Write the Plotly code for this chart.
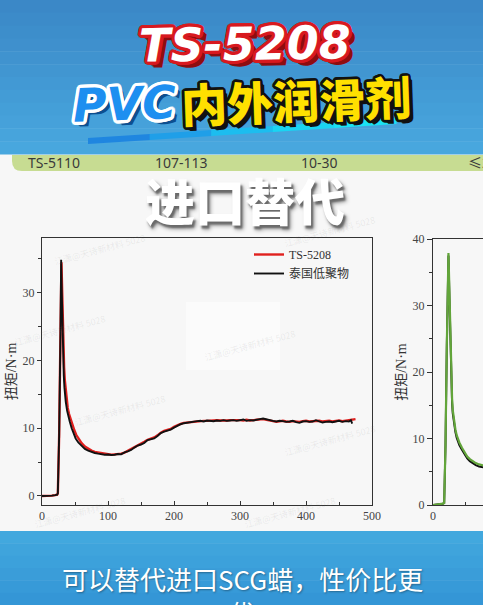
import math
import plotly.graph_objects as go

W, H = 483, 605


def PX(x):
    return x / W


def PY(y):
    return 1 - y / H


# ---------------- data ----------------
x_ticks = [0, 100, 200, 300, 400, 500]
y_ticks_main = [0, 10, 20, 30]
y_ticks_right = [0, 10, 20, 30, 40]

series_names = ["TS-5208", "泰国低聚物"]
y_title = "扭矩/N·m"

header_cells = ["TS-5110", "107-113", "10-30", "≤2"]
title_code = "TS-5208"
title_pvc = "PVC"
title_cn = "内外润滑剂"
headline = "进口替代"
caption_lines = ["可以替代进口SCG蜡，性价比更", "优"]
watermark = "江潇@天诗新材料 5028"

# TS-5208 (red)
ts_x = [0, 5, 10, 15, 20, 23, 24, 26, 28, 29.5,
        30.5, 31.5, 32.5, 33.5, 34.5, 35.5, 37, 39, 41, 43,
        46, 49, 52, 56,
        60, 65, 70, 75, 80, 85, 90, 95, 100, 105,
        110, 115, 120, 125, 130, 135, 140, 145, 150, 155,
        160, 165, 170, 175, 180, 185, 190, 195, 200, 205,
        210, 215, 220, 225, 230, 235, 240, 245, 250, 255,
        260, 265, 270, 275, 280, 285, 290, 295, 300, 305,
        310, 315, 320, 325, 330, 335, 340, 345, 350, 355,
        360, 365, 370, 375, 380, 385, 390, 395, 400, 405,
        410, 415, 420, 425, 430, 435, 440, 445, 450, 455,
        460, 465, 470, 475]
ts_y = [0.0, 0.0, 0.02, 0.05, 0.12, 0.2, 0.4, 9.0, 24.0, 34.5,
        30.5, 25.5, 21.5, 19.0, 17.2, 16.0, 14.3, 13.0, 12.1, 11.4,
        10.5, 9.7, 9.0, 8.3,
        7.8, 7.3, 6.95, 6.7, 6.5, 6.4, 6.3, 6.2, 6.15, 6.1,
        6.15, 6.15, 6.25, 6.4, 6.65, 6.9, 7.2, 7.5, 7.75, 8.0,
        8.3, 8.45, 8.65, 8.95, 9.35, 9.6, 9.7, 9.9, 10.2, 10.45,
        10.65, 10.8, 10.85, 10.95, 11.0, 11.1, 11.05, 11.1, 11.1, 11.15,
        11.1, 11.2, 11.15, 11.1, 11.15, 11.2, 11.15, 11.2, 11.2, 11.15,
        11.25, 11.15, 11.2, 11.25, 11.3, 11.35, 11.25, 11.1, 11.05, 10.95,
        11.05, 11.1, 11.0, 10.95, 11.05, 11.0, 10.95, 11.05, 11.1, 11.0,
        11.05, 11.15, 11.1, 11.0, 11.05, 11.1, 11.0, 11.1, 11.15, 11.05,
        11.1, 11.15, 11.2, 11.35]

# Thai oligomer (black)
th_x = [0, 5, 10, 15, 20, 23, 24, 26, 28, 29,
        30, 31, 32, 33, 34, 35, 36, 38, 40, 42,
        45, 48, 51, 55,
        60, 65, 70, 75, 80, 85, 90, 95, 100, 105,
        110, 115, 120, 125, 130, 135, 140, 145, 150, 155,
        160, 165, 170, 175, 180, 185, 190, 195, 200, 205,
        210, 215, 220, 225, 230, 235, 240, 245, 250, 255,
        260, 265, 270, 275, 280, 285, 290, 295, 300, 305,
        310, 315, 320, 325, 330, 335, 340, 345, 350, 355,
        360, 365, 370, 375, 380, 385, 390, 395, 400, 405,
        410, 415, 420, 425, 430, 435, 440, 445, 450, 455,
        460, 465, 468, 470]
th_y = [0.0, 0.0, 0.02, 0.05, 0.12, 0.2, 0.4, 9.0, 24.0, 34.9,
        30.0, 24.5, 20.5, 17.8, 16.0, 14.8, 13.9, 12.6, 11.7, 11.0,
        10.0, 9.2, 8.5, 7.9,
        7.35, 6.95, 6.7, 6.5, 6.35, 6.25, 6.15, 6.1, 6.12, 6.05,
        6.1, 6.2, 6.15, 6.45, 6.6, 6.8, 7.15, 7.45, 7.6, 7.85,
        8.25, 8.4, 8.5, 8.85, 9.3, 9.5, 9.6, 9.8, 10.1, 10.4,
        10.6, 10.75, 10.85, 10.9, 11.0, 11.05, 11.1, 11.0, 11.15, 11.1,
        11.05, 11.15, 11.1, 11.2, 11.1, 11.15, 11.2, 11.1, 11.25, 11.3,
        11.1, 11.2, 11.15, 11.3, 11.35, 11.45, 11.3, 11.2, 11.1, 11.0,
        11.1, 11.05, 10.95, 11.0, 11.1, 10.9, 10.8, 11.0, 11.05, 10.95,
        11.0, 11.2, 11.05, 10.85, 10.95, 11.0, 10.9, 11.0, 11.1, 10.95,
        11.05, 11.0, 11.2, 10.7]

# right-hand (cropped) chart
g_x = [0, 5, 10, 15, 17, 19, 21, 23.5,
       25, 26, 27, 28, 29, 30,
       32, 34, 36, 38, 40,
       44, 48, 52, 56, 60,
       65, 70, 76, 80]
g_y = [0.0, 0.05, 0.1, 0.2, 0.3, 9.0, 24.0, 37.9,
       32.0, 27.0, 22.0, 18.5, 16.0, 14.3,
       12.5, 11.4, 10.5, 9.9, 9.4,
       8.6, 7.9, 7.3, 6.9, 6.6,
       6.3, 6.1, 5.95, 5.85]
gb_y = [0.0, 0.05, 0.1, 0.2, 0.3, 9.0, 24.0, 37.5,
        31.0, 26.0, 21.0, 17.8, 15.4, 13.8,
        12.1, 11.0, 10.1, 9.5, 9.0,
        8.3, 7.6, 7.0, 6.6, 6.3,
        6.0, 5.8, 5.7, 5.6]

# ---------------- styles ----------------
RED = "#e0201e"
BLACK = "#111111"
GREEN = "#62a53a"
AX = "#333333"
SERIF = "Liberation Serif, Noto Sans CJK SC, serif"
CJK = "Noto Sans CJK SC, sans-serif"


def ring(color, r, n=16):
    out = []
    for k in range(n):
        a = 2 * math.pi * k / n
        out.append(f"{r * math.cos(a):.1f}px {r * math.sin(a):.1f}px 0 {color}")
    return out


shadow_code = ", ".join(ring("#d8191f", 3.2) + [f"{3 + i}px {3 + i}px 0 #8e0d10" for i in range(1, 4)])
shadow_pvc = ", ".join(ring("#ffffff", 3.2) + [f"{3 + i}px {3 + i}px 0 #0d4f8f" for i in range(1, 3)])
shadow_cn = ", ".join(ring("#111111", 2.6) + [f"{2 + i}px {2 + i}px 0 #111111" for i in range(1, 3)])
shadow_head = "2px 3px 2px #6a6a6a, 3px 4px 4px #9a9a9a"

fig = go.Figure()

fig.add_trace(go.Scatter(x=ts_x, y=ts_y, mode="lines", name=series_names[0],
                         line=dict(color=RED, width=2.4), xaxis="x", yaxis="y"))
fig.add_trace(go.Scatter(x=th_x, y=th_y, mode="lines", name=series_names[1],
                         line=dict(color=BLACK, width=1.9), xaxis="x", yaxis="y"))
fig.add_trace(go.Scatter(x=g_x, y=gb_y, mode="lines", showlegend=False,
                         line=dict(color=BLACK, width=2), xaxis="x2", yaxis="y2"))
fig.add_trace(go.Scatter(x=g_x, y=g_y, mode="lines", showlegend=False,
                         line=dict(color=GREEN, width=2.2), xaxis="x2", yaxis="y2"))

shapes = []
# top banner gradient
c0, c1 = (59, 136, 199), (72, 167, 222)
nb = 12
for i in range(nb):
    t = i / (nb - 1)
    col = "rgb(%d,%d,%d)" % tuple(round(c0[k] + (c1[k] - c0[k]) * t) for k in range(3))
    y0 = 154 * i / nb
    y1 = 154 * (i + 1) / nb + 0.5
    shapes.append(dict(type="rect", xref="paper", yref="paper", x0=0, x1=1,
                       y0=PY(y1), y1=PY(y0), fillcolor=col, line=dict(width=0), layer="below"))
# green header strip
shapes.append(dict(type="path", xref="paper", yref="paper",
                   path=f"M {PX(12)},{PY(155)} L {PX(490)},{PY(155)} L {PX(490)},{PY(171)} "
                        f"L {PX(22)},{PY(171)} Q {PX(12)},{PY(171)} {PX(12)},{PY(161)} Z",
                   fillcolor="#c7dc92", line=dict(width=0), layer="below"))
# underline (blue -> cyan)
seg_cols = ["#1f86e0", "#1f9fe8", "#1cbdef", "#1ad4f2", "#1ae2f4"]
xa, ya, xb, yb = 88, 138, 396, 118
ns = len(seg_cols)
for i, col in enumerate(seg_cols):
    t0, t1 = i / ns, (i + 1) / ns
    x0, y0 = xa + (xb - xa) * t0, ya + (yb - ya) * t0
    x1, y1 = xa + (xb - xa) * t1 + 0.5, ya + (yb - ya) * t1
    shapes.append(dict(type="path", xref="paper", yref="paper",
                       path=f"M {PX(x0)},{PY(y0)} L {PX(x1)},{PY(y1)} L {PX(x1)},{PY(y1 + 6)} "
                            f"L {PX(x0)},{PY(y0 + 6)} Z",
                       fillcolor=col, line=dict(width=0), layer="below"))
# faded logo blob inside chart
shapes.append(dict(type="rect", xref="paper", yref="paper", x0=PX(186), x1=PX(280),
                   y0=PY(370), y1=PY(302), fillcolor="rgba(255,255,255,0.45)",
                   line=dict(width=0), layer="below"))
# bottom banner
cb0, cb1 = (66, 168, 222), (52, 150, 214)
for i in range(6):
    t = i / 5
    col = "rgb(%d,%d,%d)" % tuple(round(cb0[k] + (cb1[k] - cb0[k]) * t) for k in range(3))
    y0 = 531 + (605 - 531) * i / 6
    y1 = 531 + (605 - 531) * (i + 1) / 6 + 0.5
    shapes.append(dict(type="rect", xref="paper", yref="paper", x0=0, x1=1,
                       y0=PY(y1), y1=PY(y0), fillcolor=col, line=dict(width=0), layer="above"))

ann = []


def note(text, x, y, font, angle=0, xanchor="center"):
    ann.append(dict(text=text, x=PX(x), y=PY(y), xref="paper", yref="paper",
                    showarrow=False, textangle=angle, xanchor=xanchor, yanchor="middle",
                    font=font))


# title lines
note(title_code, 245, 44, dict(family="DejaVu Sans", size=46, weight="bold", style="italic",
                               color="#ffffff", shadow=shadow_code), angle=-1)
note(title_pvc, 124, 104, dict(family="DejaVu Sans", size=46, weight="bold", style="italic",
                               color="#1d8ff0", shadow=shadow_pvc), angle=-2)
note(title_cn, 296, 99, dict(family=CJK, size=46, weight=900, color="#ffe000", shadow=shadow_cn),
     angle=-2)
# header strip cells
cell_x = [54, 181, 319, 466]
for i, (txt, cx) in enumerate(zip(header_cells, cell_x)):
    note(txt, cx, 162, dict(family="Noto Sans, Noto Sans CJK SC", size=14, color="#3a3a3a"),
         xanchor="left" if i == 3 else "center")
# headline
note(headline, 245, 199, dict(family=CJK, size=50, weight=900, color="#ffffff", shadow=shadow_head))
# caption (two lines, the second cut by the frame edge)
cap_font = dict(family=CJK, size=26, color="#ffffff", shadow="1px 1px 2px rgba(0,0,0,0.35)")
note("<br>".join(caption_lines), 242, 595, cap_font)
# faint watermarks
for (wx, wy) in [(100, 250), (330, 232), (60, 330), (250, 345), (120, 410), (330, 440),
                 (80, 512), (290, 512)]:
    note(watermark, wx, wy, dict(family=CJK, size=9, color="rgba(120,120,120,0.13)"), angle=-15)

tickfont = dict(family=SERIF, size=12, color="#444444")
axis_common = dict(showgrid=False, zeroline=False, showline=True, linecolor=AX, linewidth=1,
                   tickcolor=AX, tickwidth=1, tickfont=tickfont, automargin=False)

fig.update_layout(
    width=W, height=H, margin=dict(l=0, r=0, t=0, b=0, autoexpand=False),
    paper_bgcolor="#f7f7f7", plot_bgcolor="#f7f7f7",
    shapes=shapes, annotations=ann,
    legend=dict(x=PX(249), y=PY(240), xanchor="left", yanchor="top",
                bgcolor="rgba(0,0,0,0)", tracegroupgap=0,
                font=dict(family=SERIF, size=12, color="#333333")),
    xaxis=dict(domain=[PX(42), PX(372)], range=[0, 500], tickvals=x_ticks,
               ticks="inside", ticklen=4, mirror=True, anchor="y",
               minor=dict(dtick=50, ticks="inside", ticklen=3, tickcolor=AX),
               **axis_common),
    yaxis=dict(domain=[PY(505), PY(238)], range=[-1.33, 38.1], tickvals=y_ticks_main,
               ticks="outside", ticklen=4, mirror=True, anchor="x",
               minor=dict(dtick=5, ticks="outside", ticklen=3, tickcolor=AX),
               title=dict(text=y_title, standoff=2, font=dict(family=SERIF, size=14, color="#333333")),
               **axis_common),
    xaxis2=dict(domain=[PX(433), 1], range=[0, 76], tickvals=x_ticks,
                ticks="inside", ticklen=4, mirror=True, anchor="y2",
                minor=dict(dtick=50, ticks="inside", ticklen=3, tickcolor=AX),
                **axis_common),
    yaxis2=dict(domain=[PY(505), PY(239)], range=[0, 40], tickvals=y_ticks_right,
                ticks="outside", ticklen=5, mirror=False, anchor="x2",
                minor=dict(dtick=5, ticks="outside", ticklen=3, tickcolor=AX),
                title=dict(text=y_title, standoff=2, font=dict(family=SERIF, size=14, color="#333333")),
                **axis_common),
)

fig.write_html("out.html", config={"displayModeBar": False},
               post_script="document.body.style.margin='0px';document.body.style.padding='0px';")
